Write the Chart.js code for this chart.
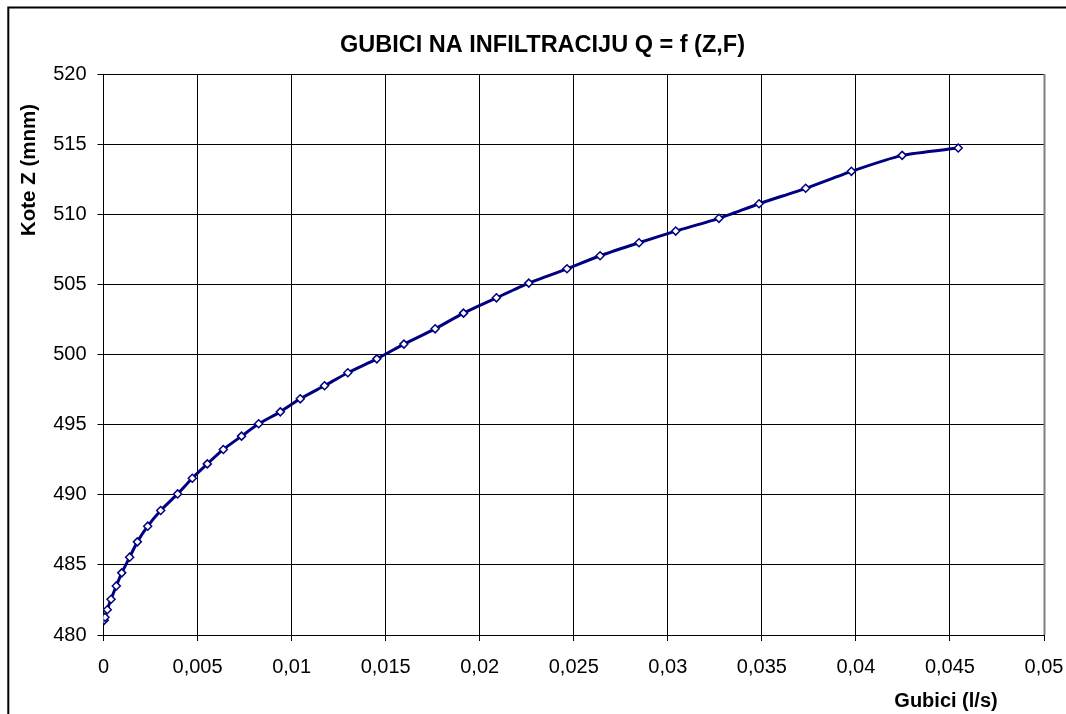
<!DOCTYPE html>
<html>
<head>
<meta charset="utf-8">
<script src="https://cdn.jsdelivr.net/npm/chart.js@4.4.1/dist/chart.umd.min.js"></script>
<style>
  html, body { margin: 0; padding: 0; background: #fff; }
  #c { display: block; }
</style>
</head>
<body>
<canvas id="c" width="1066" height="714"></canvas>
<script>
// ---- data ----
const gubici = [0.00004, 0.00008, 0.0002, 0.0004, 0.00068, 0.00097, 0.00139, 0.0018, 0.00235, 0.00304,
                0.00394, 0.00472, 0.00552, 0.00637, 0.00734, 0.00825, 0.0094, 0.01046, 0.01175, 0.01299,
                0.01453, 0.01597, 0.01763, 0.01914, 0.02089, 0.02261, 0.02464, 0.0264, 0.02847, 0.03042,
                0.03272, 0.03485, 0.03733, 0.03976, 0.04246, 0.04544];
const kote = [481.06, 481.27, 481.8, 482.55, 483.5, 484.43, 485.55, 486.64, 487.76, 488.88,
              490.06, 491.18, 492.2, 493.23, 494.18, 495.06, 495.91, 496.84, 497.77, 498.7,
              499.69, 500.74, 501.83, 502.95, 504.04, 505.09, 506.11, 507.04, 507.97, 508.8,
              509.71, 510.75, 511.85, 513.06, 514.2, 514.72];
const xTickLabels = ['0', '0,005', '0,01', '0,015', '0,02', '0,025', '0,03', '0,035', '0,04', '0,045', '0,05'];
const yTickLabels = ['480', '485', '490', '495', '500', '505', '510', '515', '520'];
const chartTitle = 'GUBICI NA INFILTRACIJU Q = f (Z,F)';
const xTitle = 'Gubici (l/s)';
const yTitle = 'Kote Z (mnm)';

const FONT = '"Liberation Sans", Arial, Helvetica, sans-serif';

const textPlugin = {
  id: 'textPlugin',
  afterDraw(chart) {
    const ctx = chart.ctx;
    const a = chart.chartArea;
    ctx.save();
    // outer frame (left & top)
    ctx.strokeStyle = '#000';
    ctx.lineWidth = 2;
    ctx.beginPath();
    ctx.moveTo(8.3, 714);
    ctx.lineTo(8.3, 7.5);
    ctx.lineTo(1066, 7.5);
    ctx.stroke();
    // plot area right border (grey)
    ctx.strokeStyle = '#808080';
    ctx.lineWidth = 2;
    ctx.beginPath();
    ctx.moveTo(a.right + 0.5, a.top);
    ctx.lineTo(a.right + 0.5, a.bottom);
    ctx.stroke();
    // chart title
    ctx.fillStyle = '#000';
    ctx.font = 'bold 23.5px ' + FONT;
    ctx.textAlign = 'center';
    ctx.textBaseline = 'alphabetic';
    ctx.fillText(chartTitle, 542.5, 52);
    // x axis title
    ctx.font = 'bold 20px ' + FONT;
    ctx.fillText(xTitle, 946, 707);
    // y axis title
    ctx.font = 'bold 20.5px ' + FONT;
    ctx.translate(34.5, 170);
    ctx.rotate(-Math.PI / 2);
    ctx.fillText(yTitle, 0, 0);
    ctx.restore();
  }
};

const points = gubici.map((x, i) => ({ x: x, y: kote[i] }));

new Chart(document.getElementById('c'), {
  type: 'scatter',
  data: {
    datasets: [{
      data: points,
      showLine: true,
      borderColor: '#000080',
      borderWidth: 3,
      tension: 0.2,
      pointStyle: 'rectRot',
      pointRadius: 4,
      pointBackgroundColor: '#ffffff',
      pointBorderColor: '#000080',
      pointBorderWidth: 1.5
    }]
  },
  options: {
    responsive: false,
    animation: false,
    devicePixelRatio: 1,
    layout: { padding: { top: 74, right: 22, bottom: 0, left: 0 } },
    plugins: {
      legend: { display: false },
      title: { display: false },
      tooltip: { enabled: false }
    },
    scales: {
      x: {
        type: 'linear',
        min: 0,
        max: 0.05,
        afterFit: (s) => { s.height = 79; s.paddingRight = 0; s.paddingLeft = 0; },
        ticks: {
          stepSize: 0.005,
          autoSkip: false,
          maxRotation: 0,
          padding: 14,
          color: '#000',
          font: { family: FONT, size: 20 },
          callback: (v, i) => xTickLabels[i]
        },
        grid: { color: '#000', lineWidth: 1, tickLength: 6, tickColor: '#000' },
        border: { color: '#000', width: 1 }
      },
      y: {
        type: 'linear',
        min: 480,
        max: 520,
        afterFit: (s) => { s.width = 103.5; s.paddingTop = 0; s.paddingBottom = 0; },
        ticks: {
          stepSize: 5,
          autoSkip: false,
          padding: 11,
          color: '#000',
          font: { family: FONT, size: 20 },
          callback: (v, i) => yTickLabels[i]
        },
        grid: { color: '#000', lineWidth: 1, tickLength: 6, tickColor: '#000' },
        border: { color: '#000', width: 1 }
      }
    }
  },
  plugins: [textPlugin]
});
</script>
</body>
</html>
